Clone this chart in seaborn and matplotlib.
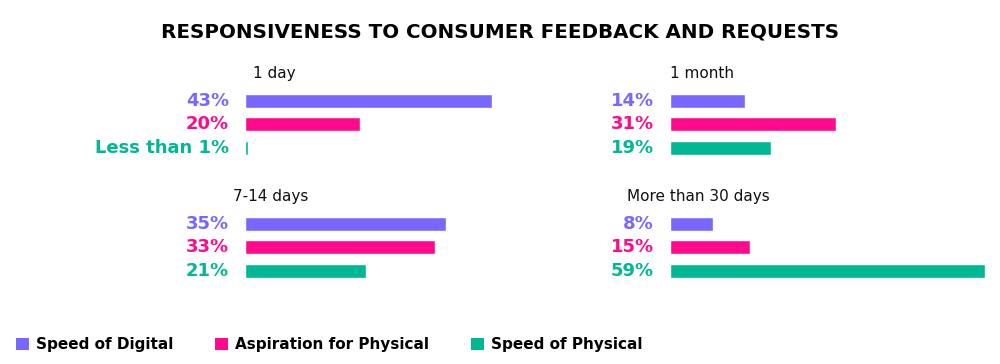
import matplotlib
matplotlib.use("Agg")
import matplotlib.pyplot as plt
from matplotlib.patches import Patch
import seaborn as sns
import pandas as pd

sns.set_theme(style="white")
plt.rcParams['font.family'] = ['DejaVu Sans']

title = "RESPONSIVENESS TO CONSUMER FEEDBACK AND REQUESTS"
series = ["Speed of Digital", "Aspiration for Physical", "Speed of Physical"]
colors = ["#7868FF", "#FF0A8C", "#00B894"]
panels = ["1 day", "1 month", "7-14 days", "More than 30 days"]
values = {
    "1 day": [43, 20, 0.5],
    "1 month": [14, 31, 19],
    "7-14 days": [35, 33, 21],
    "More than 30 days": [8, 15, 59],
}
value_labels = {
    "1 day": ["43%", "20%", "Less than 1%"],
    "1 month": ["14%", "31%", "19%"],
    "7-14 days": ["35%", "33%", "21%"],
    "More than 30 days": ["8%", "15%", "59%"],
}

W, H = 1000, 364
fig = plt.figure(figsize=(W / 100, H / 100), dpi=100)

# layout in pixels: (left, top, width, height, xmax, title_dx)
layout = {
    "1 day": (245, 89, 330, 70.5, 330 / 5.75, 8),
    "1 month": (670, 89, 315, 70.5, 59, 0),
    "7-14 days": (245, 212, 330, 70.5, 330 / 5.75, -12),
    "More than 30 days": (670, 212, 315, 70.5, 59, -43),
}

for p in panels:
    l, t, w, h, xmax, tdx = layout[p]
    ax = fig.add_axes([l / W, 1 - (t + h) / H, w / W, h / H])
    df = pd.DataFrame({"series": series, "value": values[p]})
    sns.barplot(data=df, x="value", y="series", hue="series", palette=colors,
                orient="h", width=0.6, ax=ax, legend=False, saturation=1)
    ax.set_xlim(0, xmax)
    ax.set_ylim(2.5, -0.5)
    ax.set_axis_off()
    for i, (lab, c) in enumerate(zip(value_labels[p], colors)):
        ax.annotate(lab, xy=(0, i), xycoords=("axes fraction", "data"),
                    xytext=(-16, 0), textcoords="offset pixels",
                    ha="right", va="center", color=c,
                    fontsize=13, fontweight="bold")
    ax.annotate(p, xy=(0, 1), xycoords="axes fraction",
                xytext=(tdx, 8), textcoords="offset pixels",
                ha="left", va="bottom", color="#111111", fontsize=11)

fig.text(0.5, 1 - 32 / H, title, ha="center", va="center",
         fontsize=14.3, fontweight="bold", color="black")

handles = [Patch(facecolor=c, edgecolor="none") for c in colors]
leg = fig.legend(handles, series, loc="center left",
                 bbox_to_anchor=(2 / W, 1 - 345 / H), ncol=3, frameon=False,
                 handlelength=0.85, handleheight=0.8, handletextpad=0.45,
                 columnspacing=2.75, prop={"weight": "bold", "size": 11})
for t in leg.get_texts():
    t.set_color("black")

fig.savefig("out.png", dpi=100, facecolor="white")
